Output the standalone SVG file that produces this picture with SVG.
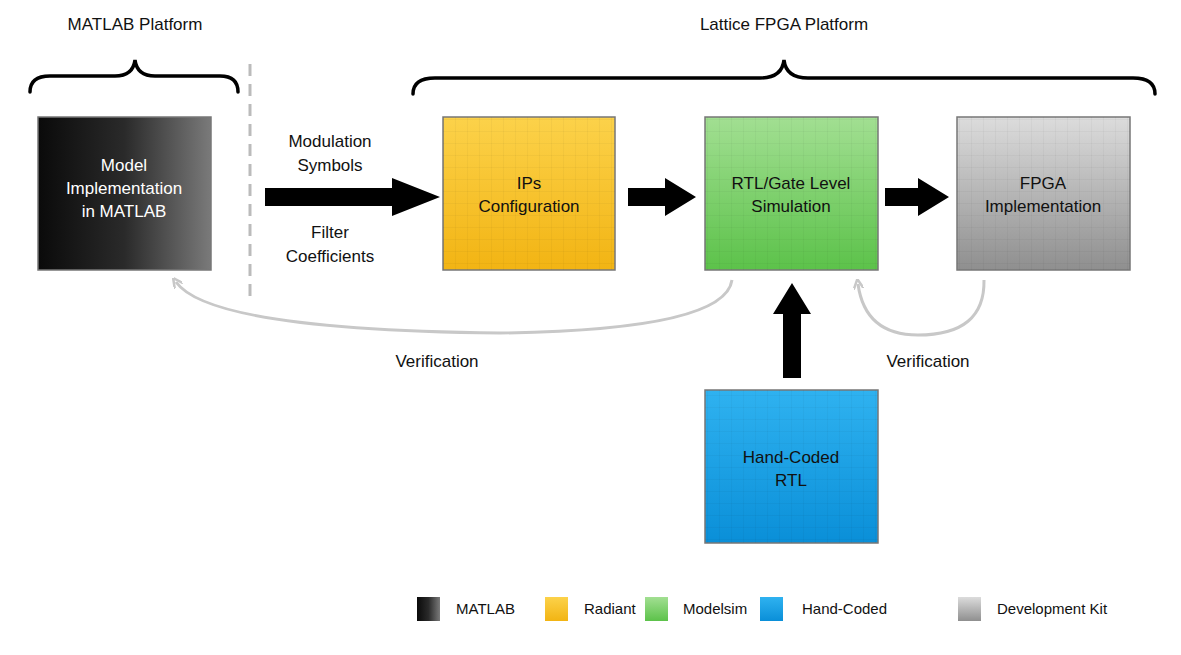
<svg xmlns="http://www.w3.org/2000/svg" width="1181" height="655" viewBox="0 0 1181 655">
<style>
text{font-family:"Liberation Sans",Arial,sans-serif;font-size:17px;fill:#111;text-anchor:middle}
.w{fill:#fff}
.box{stroke:#777;stroke-width:1.5}
.brace{fill:none;stroke:#000;stroke-width:3.5;stroke-linecap:round}
.ver{fill:none;stroke:#c8c8c8;stroke-width:3}
.lg{text-anchor:start;font-size:15px}
</style>
<defs>
<linearGradient id="gk" x1="0" x2="1"><stop offset="0" stop-color="#0a0a0a"/><stop offset="0.5" stop-color="#2a2a2a"/><stop offset="1" stop-color="#7a7a7a"/></linearGradient>
<linearGradient id="gy" x1="0" y1="0" x2="0" y2="1"><stop offset="0" stop-color="#fcd24a"/><stop offset="1" stop-color="#f2b413"/></linearGradient>
<linearGradient id="gg" x1="0" y1="0" x2="0" y2="1"><stop offset="0" stop-color="#a2df92"/><stop offset="1" stop-color="#5cc24a"/></linearGradient>
<linearGradient id="gb" x1="0" y1="0" x2="0" y2="1"><stop offset="0" stop-color="#2fb2f0"/><stop offset="1" stop-color="#0a8fd8"/></linearGradient>
<linearGradient id="gs" x1="0" y1="0" x2="0" y2="1"><stop offset="0" stop-color="#dcdcdc"/><stop offset="1" stop-color="#8f8f8f"/></linearGradient>
<pattern id="grid" width="12" height="12" patternUnits="userSpaceOnUse"><path d="M12 0V12M0 12H12" stroke="#000" stroke-opacity="0.06" fill="none"/></pattern>
<marker id="ga" markerWidth="10" markerHeight="10" refX="5" refY="5" orient="auto" markerUnits="userSpaceOnUse"><path d="M0 0L10 5L0 10" fill="none" stroke="#c8c8c8" stroke-width="2.5"/></marker>
</defs>
<g id="headers">
<text x="135" y="30">MATLAB Platform</text>
<text x="784" y="30">Lattice FPGA Platform</text>
<path class="brace" d="M30 92Q30 76 50 76H115Q133 76 135 60Q137 76 155 76H220Q238 76 238 92"/>
<path class="brace" d="M413 94Q413 78 435 78H760Q782 78 784 60Q786 78 808 78H1133Q1155 78 1155 94"/>
<line x1="250" y1="64" x2="250" y2="302" stroke="#bbb" stroke-width="3" stroke-dasharray="12,8"/>
</g>
<g id="n-matlab"><rect class="box" x="38" y="117" width="173" height="153" fill="url(#gk)"/>
<text class="w" x="124" y="171">Model</text><text class="w" x="124" y="194">Implementation</text><text class="w" x="124" y="217">in MATLAB</text></g>
<g id="n-ips"><rect class="box" x="443" y="117" width="172" height="153" fill="url(#gy)"/><rect x="443" y="117" width="172" height="153" fill="url(#grid)"/>
<text x="529" y="189">IPs</text><text x="529" y="212">Configuration</text></g>
<g id="n-rtl"><rect class="box" x="705" y="117" width="173" height="153" fill="url(#gg)"/><rect x="705" y="117" width="173" height="153" fill="url(#grid)"/>
<text x="791" y="189">RTL/Gate Level</text><text x="791" y="212">Simulation</text></g>
<g id="n-fpga"><rect class="box" x="957" y="117" width="173" height="153" fill="url(#gs)"/><rect x="957" y="117" width="173" height="153" fill="url(#grid)"/>
<text x="1043" y="189">FPGA</text><text x="1043" y="212">Implementation</text></g>
<g id="n-hand"><rect class="box" x="705" y="390" width="173" height="153" fill="url(#gb)"/><rect x="705" y="390" width="173" height="153" fill="url(#grid)"/>
<text x="791" y="463">Hand-Coded</text><text x="791" y="486">RTL</text></g>
<g id="connectors">
<path d="M265 188H392V178L440 197L392 216V206H265Z" fill="#000"/>
<path d="M628 188H665V178L696 197L665 216V206H628Z" fill="#000"/>
<path d="M885 188H918V178L949 197L918 216V206H885Z" fill="#000"/>
<path d="M783 378V314H773L792 283L811 314H801V378Z" fill="#000"/>
<path class="ver" d="M732 280Q725 330 500 333Q210 330 176 282" marker-end="url(#ga)"/>
<path class="ver" d="M984 280Q985 335 918 335Q865 335 858 284" marker-end="url(#ga)"/>
<text x="330" y="147">Modulation</text><text x="330" y="171">Symbols</text>
<text x="330" y="238">Filter</text><text x="330" y="262">Coefficients</text>
<text x="437" y="367">Verification</text>
<text x="928" y="367">Verification</text>
</g>
<g id="legend">
<rect x="417" y="597" width="23" height="24" fill="url(#gk)"/><text class="lg" x="456" y="614">MATLAB</text>
<rect x="545" y="597" width="23" height="24" fill="url(#gy)"/><text class="lg" x="584" y="614">Radiant</text>
<rect x="645" y="597" width="23" height="24" fill="url(#gg)"/><text class="lg" x="683" y="614">Modelsim</text>
<rect x="760" y="597" width="23" height="24" fill="url(#gb)"/><text class="lg" x="802" y="614">Hand-Coded</text>
<rect x="958" y="597" width="23" height="24" fill="url(#gs)"/><text class="lg" x="997" y="614">Development Kit</text>
</g>
</svg>
